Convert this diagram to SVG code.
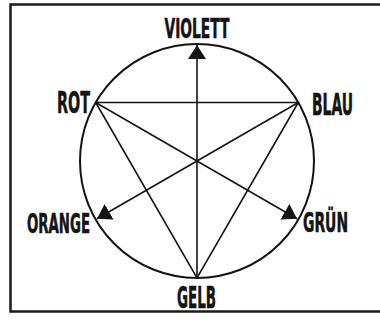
<svg xmlns="http://www.w3.org/2000/svg" width="380" height="320" viewBox="0 0 380 320">
<style>
.lbl{font-family:"DejaVu Sans Condensed","Liberation Sans",sans-serif;font-weight:bold;fill:#141414;stroke:#141414;stroke-width:0.6}
.ln{stroke:#141414;stroke-width:1.6;fill:none}
</style>
<defs>
<marker id="ah" markerUnits="userSpaceOnUse" markerWidth="20" markerHeight="22" refX="14" refY="10" orient="auto" viewBox="0 0 20 22">
<path d="M14,10 L0,1 L0,19 Z" fill="#141414"/>
</marker>
</defs>
<rect width="380" height="320" fill="#ffffff"/>
<path d="M380,4.5 H10.5 V311.5 H380" fill="none" stroke="#1a1a1a" stroke-width="2.5"/>
<g id="circle"><circle cx="197" cy="161" r="117" fill="none" stroke="#141414" stroke-width="2"/></g>
<g id="connectors">
<path class="ln" d="M95.7,102.5 H298.3 L197,278 Z"/>
<line class="ln" x1="197" y1="278" x2="197" y2="45" marker-end="url(#ah)"/>
<line class="ln" x1="95.7" y1="102.5" x2="297" y2="218.8" marker-end="url(#ah)"/>
<line class="ln" x1="298.3" y1="102.5" x2="97" y2="218.8" marker-end="url(#ah)"/>
</g>
<g id="violett"><text class="lbl" transform="translate(197,38) scale(0.59,1)" font-size="26" text-anchor="middle" textLength="110" lengthAdjust="spacingAndGlyphs">VIOLETT</text></g>
<g id="rot"><text class="lbl" transform="translate(57,113) scale(0.515,1)" font-size="31" textLength="64" lengthAdjust="spacingAndGlyphs">ROT</text></g>
<g id="blau"><text class="lbl" transform="translate(312,115) scale(0.49,1)" font-size="31" textLength="83.7" lengthAdjust="spacingAndGlyphs">BLAU</text></g>
<g id="orange"><text class="lbl" transform="translate(27,233) scale(0.57,1)" font-size="26" textLength="110.5" lengthAdjust="spacingAndGlyphs">ORANGE</text></g>
<g id="gruen"><text class="lbl" transform="translate(303,232) scale(0.57,1)" font-size="27" textLength="79" lengthAdjust="spacingAndGlyphs">GRÜN</text></g>
<g id="gelb"><text class="lbl" transform="translate(177,308) scale(0.48,1)" font-size="31" textLength="81.2" lengthAdjust="spacingAndGlyphs">GELB</text></g>
</svg>
